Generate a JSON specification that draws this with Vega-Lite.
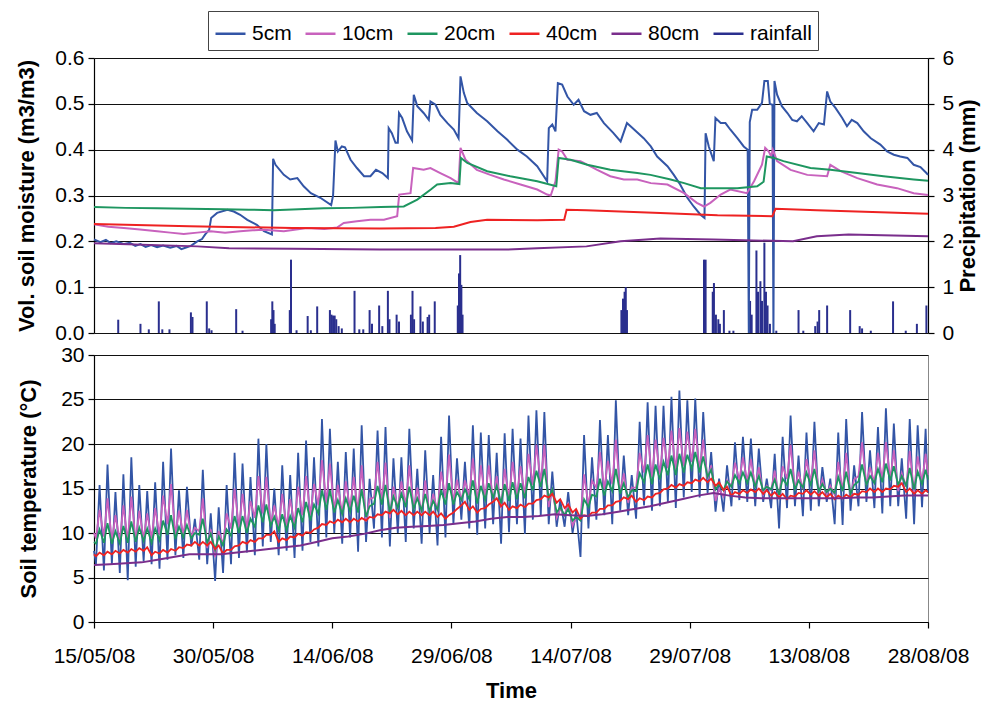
{
"$schema":"https://vega.github.io/schema/vega-lite/v6.json",
"background":"white",
"padding":{"left":15,"top":10,"right":5,"bottom":0},
"config":{
 "font":"Liberation Sans",
 "view":{"stroke":null},
 "axis":{"labelFont":"Liberation Sans","titleFont":"Liberation Sans","labelFontSize":21,"titleFontSize":22,"titleFontWeight":"bold","labelColor":"#000","titleColor":"#000","domainColor":"#000","tickColor":"#000","gridColor":"#111","gridOpacity":1,"gridWidth":1.2,"tickSize":6,"domainWidth":1.2,"tickWidth":1.2,"labelPadding":4},
 "legend":{"orient":"none","legendX":114,"legendY":-47,"direction":"horizontal","symbolType":"stroke","symbolSize":900,"symbolStrokeWidth":2.5,"labelFontSize":21,"labelFont":"Liberation Sans","labelColor":"#000","strokeColor":"#444","padding":6,"columnPadding":8,"labelOffset":5}
},
"datasets":{
"rain":[
{"s":"rainfall","t":3.05,"p":0.29},{"s":"rainfall","t":5.85,"p":0.2},{"s":"rainfall","t":6.9,"p":0.08},{"s":"rainfall","t":8.16,"p":0.69},{"s":"rainfall","t":8.6,"p":0.08},{"s":"rainfall","t":9.5,"p":0.08},{"s":"rainfall","t":12.2,"p":0.45},{"s":"rainfall","t":12.4,"p":0.35},{"s":"rainfall","t":14.2,"p":0.69},{"s":"rainfall","t":14.5,"p":0.1},{"s":"rainfall","t":14.8,"p":0.06},{"s":"rainfall","t":17.9,"p":0.52},{"s":"rainfall","t":18.7,"p":0.05},{"s":"rainfall","t":22.3,"p":0.3},{"s":"rainfall","t":22.45,"p":0.69},{"s":"rainfall","t":22.6,"p":0.5},{"s":"rainfall","t":22.75,"p":0.2},{"s":"rainfall","t":24.65,"p":0.5},{"s":"rainfall","t":24.8,"p":1.6},{"s":"rainfall","t":25.5,"p":0.06},{"s":"rainfall","t":26.9,"p":0.37},{"s":"rainfall","t":27.3,"p":0.06},{"s":"rainfall","t":28.1,"p":0.58},{"s":"rainfall","t":29.7,"p":0.5},{"s":"rainfall","t":29.9,"p":0.4},{"s":"rainfall","t":30.1,"p":0.38},{"s":"rainfall","t":30.3,"p":0.38},{"s":"rainfall","t":30.5,"p":0.3},{"s":"rainfall","t":30.8,"p":0.15},{"s":"rainfall","t":31.2,"p":0.1},{"s":"rainfall","t":32.8,"p":0.92},{"s":"rainfall","t":33.4,"p":0.08},{"s":"rainfall","t":33.9,"p":0.08},{"s":"rainfall","t":34.7,"p":0.5},{"s":"rainfall","t":35.0,"p":0.2},{"s":"rainfall","t":35.9,"p":0.6},{"s":"rainfall","t":36.3,"p":0.15},{"s":"rainfall","t":37.0,"p":0.92},{"s":"rainfall","t":37.2,"p":0.3},{"s":"rainfall","t":38.1,"p":0.4},{"s":"rainfall","t":38.4,"p":0.25},{"s":"rainfall","t":39.9,"p":0.4},{"s":"rainfall","t":40.1,"p":0.92},{"s":"rainfall","t":40.3,"p":0.3},{"s":"rainfall","t":41.1,"p":0.58},{"s":"rainfall","t":41.4,"p":0.25},{"s":"rainfall","t":42.0,"p":0.35},{"s":"rainfall","t":42.2,"p":0.4},{"s":"rainfall","t":42.9,"p":0.69},{"s":"rainfall","t":45.8,"p":0.6},{"s":"rainfall","t":45.95,"p":1.3},{"s":"rainfall","t":46.1,"p":1.7},{"s":"rainfall","t":46.25,"p":1.05},{"s":"rainfall","t":46.4,"p":0.4},{"s":"rainfall","t":66.4,"p":0.5},{"s":"rainfall","t":66.6,"p":0.75},{"s":"rainfall","t":66.8,"p":0.9},{"s":"rainfall","t":66.95,"p":1.0},{"s":"rainfall","t":67.1,"p":0.5},{"s":"rainfall","t":76.8,"p":1.6},{"s":"rainfall","t":77.0,"p":1.6},{"s":"rainfall","t":77.9,"p":0.9},{"s":"rainfall","t":78.05,"p":1.09},{"s":"rainfall","t":78.3,"p":0.4},{"s":"rainfall","t":78.6,"p":0.3},{"s":"rainfall","t":78.8,"p":0.2},{"s":"rainfall","t":79.3,"p":0.5},{"s":"rainfall","t":80.0,"p":0.05},{"s":"rainfall","t":80.5,"p":0.05},{"s":"rainfall","t":82.6,"p":0.7},{"s":"rainfall","t":82.8,"p":0.4},{"s":"rainfall","t":83.4,"p":1.8},{"s":"rainfall","t":83.6,"p":0.9},{"s":"rainfall","t":83.9,"p":1.13},{"s":"rainfall","t":84.1,"p":0.7},{"s":"rainfall","t":84.4,"p":1.97},{"s":"rainfall","t":84.6,"p":0.9},{"s":"rainfall","t":84.8,"p":0.6},{"s":"rainfall","t":85.1,"p":0.2},{"s":"rainfall","t":85.9,"p":0.05},{"s":"rainfall","t":88.7,"p":0.5},{"s":"rainfall","t":89.3,"p":0.05},{"s":"rainfall","t":90.8,"p":0.15},{"s":"rainfall","t":91.1,"p":0.25},{"s":"rainfall","t":91.3,"p":0.5},{"s":"rainfall","t":92.3,"p":0.6},{"s":"rainfall","t":95.2,"p":0.5},{"s":"rainfall","t":96.4,"p":0.15},{"s":"rainfall","t":96.7,"p":0.1},{"s":"rainfall","t":97.8,"p":0.05},{"s":"rainfall","t":100.6,"p":0.69},{"s":"rainfall","t":102.2,"p":0.05},{"s":"rainfall","t":103.6,"p":0.2},{"s":"rainfall","t":104.8,"p":0.6}
],
"moist":[
{"s":"5cm","t":0,"v":0.204},{"s":"5cm","t":0.8,"v":0.198},{"s":"5cm","t":1.5,"v":0.203},{"s":"5cm","t":2.1,"v":0.196},{"s":"5cm","t":2.8,"v":0.2},{"s":"5cm","t":3.8,"v":0.194},{"s":"5cm","t":4.5,"v":0.197},{"s":"5cm","t":5.2,"v":0.19},{"s":"5cm","t":5.85,"v":0.194},{"s":"5cm","t":6.5,"v":0.188},{"s":"5cm","t":7.2,"v":0.192},{"s":"5cm","t":7.95,"v":0.187},{"s":"5cm","t":8.7,"v":0.191},{"s":"5cm","t":9.6,"v":0.186},{"s":"5cm","t":10.4,"v":0.19},{"s":"5cm","t":11.0,"v":0.183},{"s":"5cm","t":11.5,"v":0.186},{"s":"5cm","t":12.2,"v":0.19},{"s":"5cm","t":13.0,"v":0.2},{"s":"5cm","t":13.6,"v":0.205},{"s":"5cm","t":14.0,"v":0.215},{"s":"5cm","t":14.5,"v":0.225},{"s":"5cm","t":14.75,"v":0.251},{"s":"5cm","t":15.5,"v":0.262},{"s":"5cm","t":16.8,"v":0.269},{"s":"5cm","t":17.6,"v":0.265},{"s":"5cm","t":18.4,"v":0.258},{"s":"5cm","t":19.3,"v":0.247},{"s":"5cm","t":20.5,"v":0.236},{"s":"5cm","t":21.4,"v":0.222},{"s":"5cm","t":22.4,"v":0.215},{"s":"5cm","t":22.55,"v":0.38},{"s":"5cm","t":22.85,"v":0.367},{"s":"5cm","t":23.9,"v":0.345},{"s":"5cm","t":24.7,"v":0.335},{"s":"5cm","t":25.6,"v":0.338},{"s":"5cm","t":26.4,"v":0.32},{"s":"5cm","t":27.3,"v":0.305},{"s":"5cm","t":28.5,"v":0.295},{"s":"5cm","t":29.86,"v":0.279},{"s":"5cm","t":30.1,"v":0.3},{"s":"5cm","t":30.4,"v":0.42},{"s":"5cm","t":30.7,"v":0.396},{"s":"5cm","t":31.2,"v":0.407},{"s":"5cm","t":31.6,"v":0.405},{"s":"5cm","t":32.3,"v":0.378},{"s":"5cm","t":33.1,"v":0.36},{"s":"5cm","t":34.0,"v":0.342},{"s":"5cm","t":34.8,"v":0.342},{"s":"5cm","t":35.5,"v":0.356},{"s":"5cm","t":36.3,"v":0.349},{"s":"5cm","t":37.0,"v":0.338},{"s":"5cm","t":37.1,"v":0.447},{"s":"5cm","t":37.5,"v":0.436},{"s":"5cm","t":37.96,"v":0.415},{"s":"5cm","t":38.25,"v":0.415},{"s":"5cm","t":38.4,"v":0.48},{"s":"5cm","t":38.8,"v":0.469},{"s":"5cm","t":39.4,"v":0.44},{"s":"5cm","t":40.05,"v":0.42},{"s":"5cm","t":40.26,"v":0.52},{"s":"5cm","t":40.7,"v":0.495},{"s":"5cm","t":41.5,"v":0.48},{"s":"5cm","t":42.15,"v":0.465},{"s":"5cm","t":42.36,"v":0.505},{"s":"5cm","t":43.0,"v":0.498},{"s":"5cm","t":43.6,"v":0.476},{"s":"5cm","t":44.5,"v":0.458},{"s":"5cm","t":45.3,"v":0.444},{"s":"5cm","t":45.9,"v":0.425},{"s":"5cm","t":46.14,"v":0.56},{"s":"5cm","t":46.56,"v":0.524},{"s":"5cm","t":46.98,"v":0.502},{"s":"5cm","t":48.2,"v":0.48},{"s":"5cm","t":49.5,"v":0.462},{"s":"5cm","t":50.8,"v":0.44},{"s":"5cm","t":52.0,"v":0.422},{"s":"5cm","t":53.3,"v":0.4},{"s":"5cm","t":54.5,"v":0.385},{"s":"5cm","t":55.8,"v":0.364},{"s":"5cm","t":57.05,"v":0.331},{"s":"5cm","t":57.26,"v":0.447},{"s":"5cm","t":57.7,"v":0.455},{"s":"5cm","t":58.1,"v":0.44},{"s":"5cm","t":58.4,"v":0.545},{"s":"5cm","t":58.94,"v":0.542},{"s":"5cm","t":59.6,"v":0.516},{"s":"5cm","t":60.4,"v":0.498},{"s":"5cm","t":61.0,"v":0.509},{"s":"5cm","t":61.7,"v":0.484},{"s":"5cm","t":62.5,"v":0.476},{"s":"5cm","t":63.3,"v":0.48},{"s":"5cm","t":64.2,"v":0.458},{"s":"5cm","t":65.4,"v":0.436},{"s":"5cm","t":66.3,"v":0.418},{"s":"5cm","t":67.1,"v":0.458},{"s":"5cm","t":68.0,"v":0.444},{"s":"5cm","t":69.2,"v":0.425},{"s":"5cm","t":70.1,"v":0.407},{"s":"5cm","t":70.9,"v":0.385},{"s":"5cm","t":72.2,"v":0.364},{"s":"5cm","t":73.0,"v":0.345},{"s":"5cm","t":73.8,"v":0.324},{"s":"5cm","t":74.7,"v":0.295},{"s":"5cm","t":75.5,"v":0.276},{"s":"5cm","t":76.36,"v":0.258},{"s":"5cm","t":76.86,"v":0.251},{"s":"5cm","t":77.0,"v":0.436},{"s":"5cm","t":77.4,"v":0.407},{"s":"5cm","t":78.03,"v":0.375},{"s":"5cm","t":78.24,"v":0.469},{"s":"5cm","t":78.9,"v":0.458},{"s":"5cm","t":79.5,"v":0.458},{"s":"5cm","t":80.1,"v":0.444},{"s":"5cm","t":81.0,"v":0.425},{"s":"5cm","t":81.8,"v":0.407},{"s":"5cm","t":82.3,"v":0.4},{"s":"5cm","t":82.44,"v":0.0},{"s":"5cm","t":82.56,"v":0.46},{"s":"5cm","t":82.86,"v":0.487},{"s":"5cm","t":83.5,"v":0.487},{"s":"5cm","t":84.1,"v":0.502},{"s":"5cm","t":84.4,"v":0.55},{"s":"5cm","t":84.83,"v":0.55},{"s":"5cm","t":85.08,"v":0.5},{"s":"5cm","t":85.42,"v":0.498},{"s":"5cm","t":85.54,"v":0.0},{"s":"5cm","t":85.67,"v":0.55},{"s":"5cm","t":86.0,"v":0.52},{"s":"5cm","t":86.6,"v":0.495},{"s":"5cm","t":87.3,"v":0.48},{"s":"5cm","t":87.9,"v":0.465},{"s":"5cm","t":88.5,"v":0.462},{"s":"5cm","t":89.1,"v":0.473},{"s":"5cm","t":89.8,"v":0.458},{"s":"5cm","t":90.6,"v":0.44},{"s":"5cm","t":91.25,"v":0.458},{"s":"5cm","t":91.9,"v":0.455},{"s":"5cm","t":92.3,"v":0.527},{"s":"5cm","t":92.7,"v":0.505},{"s":"5cm","t":93.35,"v":0.491},{"s":"5cm","t":94.2,"v":0.469},{"s":"5cm","t":94.8,"v":0.451},{"s":"5cm","t":95.4,"v":0.465},{"s":"5cm","t":96.1,"v":0.458},{"s":"5cm","t":96.9,"v":0.44},{"s":"5cm","t":97.8,"v":0.425},{"s":"5cm","t":99.0,"v":0.411},{"s":"5cm","t":99.85,"v":0.396},{"s":"5cm","t":100.7,"v":0.389},{"s":"5cm","t":101.5,"v":0.385},{"s":"5cm","t":102.4,"v":0.382},{"s":"5cm","t":103.2,"v":0.367},{"s":"5cm","t":104.05,"v":0.362},{"s":"5cm","t":104.8,"v":0.349},{"s":"5cm","t":105,"v":0.345},
{"s":"10cm","t":0,"v":0.237},{"s":"10cm","t":1.8,"v":0.232},{"s":"10cm","t":3.76,"v":0.229},{"s":"10cm","t":5.8,"v":0.226},{"s":"10cm","t":7.95,"v":0.222},{"s":"10cm","t":9.6,"v":0.219},{"s":"10cm","t":11.3,"v":0.216},{"s":"10cm","t":13.0,"v":0.219},{"s":"10cm","t":14.7,"v":0.222},{"s":"10cm","t":16.5,"v":0.219},{"s":"10cm","t":18.4,"v":0.222},{"s":"10cm","t":20.0,"v":0.224},{"s":"10cm","t":21.4,"v":0.225},{"s":"10cm","t":23.9,"v":0.222},{"s":"10cm","t":26.8,"v":0.229},{"s":"10cm","t":29.0,"v":0.227},{"s":"10cm","t":30.6,"v":0.23},{"s":"10cm","t":31.45,"v":0.24},{"s":"10cm","t":33.1,"v":0.244},{"s":"10cm","t":34.8,"v":0.247},{"s":"10cm","t":36.5,"v":0.247},{"s":"10cm","t":38.17,"v":0.255},{"s":"10cm","t":38.42,"v":0.302},{"s":"10cm","t":39.85,"v":0.305},{"s":"10cm","t":40.18,"v":0.36},{"s":"10cm","t":41.5,"v":0.356},{"s":"10cm","t":42.36,"v":0.36},{"s":"10cm","t":43.6,"v":0.349},{"s":"10cm","t":44.9,"v":0.338},{"s":"10cm","t":45.9,"v":0.327},{"s":"10cm","t":46.14,"v":0.404},{"s":"10cm","t":46.77,"v":0.378},{"s":"10cm","t":48.2,"v":0.356},{"s":"10cm","t":49.9,"v":0.345},{"s":"10cm","t":51.6,"v":0.335},{"s":"10cm","t":53.7,"v":0.324},{"s":"10cm","t":55.8,"v":0.313},{"s":"10cm","t":57.05,"v":0.302},{"s":"10cm","t":57.5,"v":0.3},{"s":"10cm","t":58.1,"v":0.331},{"s":"10cm","t":58.5,"v":0.4},{"s":"10cm","t":58.94,"v":0.396},{"s":"10cm","t":59.6,"v":0.378},{"s":"10cm","t":61.25,"v":0.375},{"s":"10cm","t":63.35,"v":0.356},{"s":"10cm","t":65.0,"v":0.342},{"s":"10cm","t":66.7,"v":0.335},{"s":"10cm","t":68.4,"v":0.335},{"s":"10cm","t":70.1,"v":0.327},{"s":"10cm","t":72.2,"v":0.324},{"s":"10cm","t":74.3,"v":0.305},{"s":"10cm","t":75.9,"v":0.284},{"s":"10cm","t":76.8,"v":0.276},{"s":"10cm","t":77.6,"v":0.284},{"s":"10cm","t":78.9,"v":0.302},{"s":"10cm","t":80.1,"v":0.313},{"s":"10cm","t":82.2,"v":0.305},{"s":"10cm","t":83.1,"v":0.331},{"s":"10cm","t":84.1,"v":0.367},{"s":"10cm","t":84.5,"v":0.404},{"s":"10cm","t":84.96,"v":0.396},{"s":"10cm","t":85.25,"v":0.385},{"s":"10cm","t":85.46,"v":0.4},{"s":"10cm","t":86.0,"v":0.375},{"s":"10cm","t":87.7,"v":0.356},{"s":"10cm","t":89.8,"v":0.345},{"s":"10cm","t":92.3,"v":0.342},{"s":"10cm","t":92.7,"v":0.367},{"s":"10cm","t":94.0,"v":0.353},{"s":"10cm","t":96.1,"v":0.338},{"s":"10cm","t":98.6,"v":0.324},{"s":"10cm","t":101.1,"v":0.316},{"s":"10cm","t":103.2,"v":0.305},{"s":"10cm","t":105,"v":0.301},
{"s":"20cm","t":0,"v":0.275},{"s":"20cm","t":4.0,"v":0.273},{"s":"20cm","t":7.95,"v":0.272},{"s":"20cm","t":12.0,"v":0.271},{"s":"20cm","t":16.3,"v":0.27},{"s":"20cm","t":19.5,"v":0.269},{"s":"20cm","t":22.6,"v":0.268},{"s":"20cm","t":25.8,"v":0.27},{"s":"20cm","t":28.9,"v":0.272},{"s":"20cm","t":32.5,"v":0.273},{"s":"20cm","t":36.1,"v":0.275},{"s":"20cm","t":39.0,"v":0.276},{"s":"20cm","t":40.7,"v":0.291},{"s":"20cm","t":42.4,"v":0.313},{"s":"20cm","t":43.2,"v":0.324},{"s":"20cm","t":44.9,"v":0.327},{"s":"20cm","t":46.0,"v":0.325},{"s":"20cm","t":46.2,"v":0.382},{"s":"20cm","t":47.0,"v":0.371},{"s":"20cm","t":49.5,"v":0.353},{"s":"20cm","t":52.4,"v":0.342},{"s":"20cm","t":55.8,"v":0.331},{"s":"20cm","t":58.2,"v":0.32},{"s":"20cm","t":58.5,"v":0.382},{"s":"20cm","t":60.0,"v":0.378},{"s":"20cm","t":62.1,"v":0.367},{"s":"20cm","t":65.0,"v":0.356},{"s":"20cm","t":68.4,"v":0.349},{"s":"20cm","t":70.06,"v":0.345},{"s":"20cm","t":72.6,"v":0.335},{"s":"20cm","t":74.3,"v":0.327},{"s":"20cm","t":76.4,"v":0.316},{"s":"20cm","t":81.0,"v":0.316},{"s":"20cm","t":83.5,"v":0.32},{"s":"20cm","t":84.3,"v":0.33},{"s":"20cm","t":84.7,"v":0.385},{"s":"20cm","t":85.6,"v":0.382},{"s":"20cm","t":86.8,"v":0.375},{"s":"20cm","t":90.2,"v":0.36},{"s":"20cm","t":92.7,"v":0.356},{"s":"20cm","t":96.1,"v":0.349},{"s":"20cm","t":99.4,"v":0.342},{"s":"20cm","t":103.2,"v":0.335},{"s":"20cm","t":105,"v":0.332},
{"s":"40cm","t":0,"v":0.238},{"s":"40cm","t":12,"v":0.233},{"s":"40cm","t":25,"v":0.229},{"s":"40cm","t":36,"v":0.228},{"s":"40cm","t":43,"v":0.229},{"s":"40cm","t":45.3,"v":0.232},{"s":"40cm","t":47.4,"v":0.242},{"s":"40cm","t":49.5,"v":0.247},{"s":"40cm","t":55.8,"v":0.246},{"s":"40cm","t":59.2,"v":0.247},{"s":"40cm","t":59.5,"v":0.269},{"s":"40cm","t":62,"v":0.268},{"s":"40cm","t":71.3,"v":0.262},{"s":"40cm","t":78.5,"v":0.257},{"s":"40cm","t":85.4,"v":0.255},{"s":"40cm","t":85.8,"v":0.271},{"s":"40cm","t":91,"v":0.268},{"s":"40cm","t":105,"v":0.26},
{"s":"80cm","t":0,"v":0.196},{"s":"80cm","t":13,"v":0.189},{"s":"80cm","t":17,"v":0.185},{"s":"80cm","t":25,"v":0.184},{"s":"80cm","t":36,"v":0.182},{"s":"80cm","t":52,"v":0.182},{"s":"80cm","t":55.8,"v":0.185},{"s":"80cm","t":62,"v":0.189},{"s":"80cm","t":66.3,"v":0.2},{"s":"80cm","t":71.3,"v":0.206},{"s":"80cm","t":78,"v":0.204},{"s":"80cm","t":88,"v":0.2},{"s":"80cm","t":91,"v":0.211},{"s":"80cm","t":95,"v":0.215},{"s":"80cm","t":105,"v":0.211}
],
"temp":[
{"t":0,"5cm":8.0,"10cm":10.0,"20cm":9.0,"40cm":7.6},
{"t":0.25,"5cm":6.5,"10cm":9.4,"20cm":8.8,"40cm":7.4},{"t":0.7,"5cm":15.4,"10cm":12.6,"20cm":10.4,"40cm":7.8},
{"t":1.25,"5cm":5.8,"10cm":9.6,"20cm":8.9,"40cm":7.5},{"t":1.7,"5cm":17.7,"10cm":13.9,"20cm":11.1,"40cm":7.9},
{"t":2.25,"5cm":6.5,"10cm":9.1,"20cm":8.8,"40cm":7.6},{"t":2.7,"5cm":14.6,"10cm":12.0,"20cm":10.2,"40cm":8.0},
{"t":3.25,"5cm":5.5,"10cm":9.1,"20cm":8.8,"40cm":7.7},{"t":3.7,"5cm":16.6,"10cm":13.1,"20cm":10.8,"40cm":8.1},
{"t":4.25,"5cm":4.7,"10cm":9.1,"20cm":8.9,"40cm":7.8},{"t":4.7,"5cm":18.5,"10cm":14.1,"20cm":11.3,"40cm":8.2},
{"t":5.25,"5cm":6.2,"10cm":9.1,"20cm":9.0,"40cm":7.9},{"t":5.7,"5cm":15.4,"10cm":12.5,"20cm":10.6,"40cm":8.3},
{"t":6.25,"5cm":6.8,"10cm":9.3,"20cm":9.1,"40cm":8.0},{"t":6.7,"5cm":14.7,"10cm":12.2,"20cm":10.5,"40cm":8.4},
{"t":7.25,"5cm":6.5,"10cm":9.4,"20cm":8.9,"40cm":7.5},{"t":7.7,"5cm":15.7,"10cm":12.8,"20cm":10.5,"40cm":7.9},
{"t":8.25,"5cm":6.0,"10cm":9.8,"20cm":9.2,"40cm":7.7},{"t":8.7,"5cm":18.0,"10cm":14.2,"20cm":11.4,"40cm":8.1},
{"t":9.25,"5cm":7.0,"10cm":11.0,"20cm":9.8,"40cm":7.8},{"t":9.7,"5cm":19.5,"10cm":15.5,"20cm":12.0,"40cm":8.2},
{"t":10.25,"5cm":7.5,"10cm":9.8,"20cm":9.3,"40cm":8.0},{"t":10.7,"5cm":14.8,"10cm":12.5,"20cm":10.7,"40cm":8.4},
{"t":11.25,"5cm":7.2,"10cm":9.8,"20cm":9.5,"40cm":8.3},{"t":11.7,"5cm":15.2,"10cm":12.6,"20cm":10.9,"40cm":8.7},
{"t":12.25,"5cm":8.5,"10cm":9.5,"20cm":9.4,"40cm":8.6},{"t":12.7,"5cm":11.6,"10cm":10.6,"20cm":10.0,"40cm":9.0},
{"t":13.25,"5cm":7.0,"10cm":10.2,"20cm":9.8,"40cm":8.6},{"t":13.7,"5cm":17.1,"10cm":13.9,"20cm":11.6,"40cm":9.0},
{"t":14.25,"5cm":6.5,"10cm":8.3,"20cm":8.9,"40cm":8.6},{"t":14.7,"5cm":12.2,"10cm":10.4,"20cm":9.9,"40cm":9.0},
{"t":15.25,"5cm":4.6,"10cm":7.3,"20cm":8.1,"40cm":8.2},{"t":15.7,"5cm":12.9,"10cm":10.2,"20cm":9.6,"40cm":8.6},
{"t":16.25,"5cm":5.5,"10cm":8.7,"20cm":8.6,"40cm":7.7},{"t":16.7,"5cm":15.4,"10cm":12.2,"20cm":10.4,"40cm":8.1},
{"t":17.25,"5cm":6.5,"10cm":10.5,"20cm":9.7,"40cm":8.1},{"t":17.7,"5cm":19.0,"10cm":15.0,"20cm":11.9,"40cm":8.5},
{"t":18.25,"5cm":7.2,"10cm":10.6,"20cm":10.0,"40cm":8.6},{"t":18.7,"5cm":17.8,"10cm":14.4,"20cm":11.9,"40cm":9.0},
{"t":19.25,"5cm":7.8,"10cm":10.5,"20cm":10.0,"40cm":8.8},{"t":19.7,"5cm":16.3,"10cm":13.6,"20cm":11.6,"40cm":9.2},
{"t":20.25,"5cm":7.5,"10cm":11.7,"20cm":10.7,"40cm":9.0},{"t":20.7,"5cm":20.6,"10cm":16.4,"20cm":13.1,"40cm":9.4},
{"t":21.25,"5cm":8.5,"10cm":12.2,"20cm":11.2,"40cm":9.4},{"t":21.7,"5cm":20.0,"10cm":16.3,"20cm":13.2,"40cm":9.8},
{"t":22.25,"5cm":9.0,"10cm":10.9,"20cm":10.8,"40cm":9.8},{"t":22.7,"5cm":15.0,"10cm":13.1,"20cm":11.8,"40cm":10.2},
{"t":23.25,"5cm":7.5,"10cm":10.7,"20cm":10.3,"40cm":9.0},{"t":23.7,"5cm":17.6,"10cm":14.4,"20cm":12.1,"40cm":9.4},
{"t":24.25,"5cm":8.0,"10cm":10.7,"20cm":10.3,"40cm":9.2},{"t":24.7,"5cm":16.5,"10cm":13.8,"20cm":11.9,"40cm":9.6},
{"t":25.25,"5cm":7.2,"10cm":11.0,"20cm":10.6,"40cm":9.5},{"t":25.7,"5cm":19.0,"10cm":15.2,"20cm":12.8,"40cm":9.9},
{"t":26.25,"5cm":8.0,"10cm":12.0,"20cm":11.2,"40cm":9.7},{"t":26.7,"5cm":20.4,"10cm":16.4,"20cm":13.5,"40cm":10.1},
{"t":27.25,"5cm":9.0,"10cm":12.0,"20cm":11.4,"40cm":10.0},{"t":27.7,"5cm":18.5,"10cm":15.5,"20cm":13.2,"40cm":10.4},
{"t":28.25,"5cm":8.5,"10cm":13.1,"20cm":12.2,"40cm":10.6},{"t":28.7,"5cm":22.8,"10cm":18.2,"20cm":14.8,"40cm":11.0},
{"t":29.25,"5cm":9.5,"10cm":13.4,"20cm":12.6,"40cm":10.9},{"t":29.7,"5cm":21.7,"10cm":17.8,"20cm":14.8,"40cm":11.3},
{"t":30.25,"5cm":10.0,"10cm":12.6,"20cm":12.3,"40cm":11.1},{"t":30.7,"5cm":18.0,"10cm":15.4,"20cm":13.7,"40cm":11.5},
{"t":31.25,"5cm":8.8,"10cm":12.1,"20cm":12.1,"40cm":11.2},{"t":31.7,"5cm":19.1,"10cm":15.8,"20cm":13.9,"40cm":11.6},
{"t":32.25,"5cm":9.5,"10cm":12.7,"20cm":12.4,"40cm":11.2},{"t":32.7,"5cm":19.5,"10cm":16.3,"20cm":14.2,"40cm":11.6},
{"t":33.25,"5cm":7.9,"10cm":12.4,"20cm":12.3,"40cm":11.3},{"t":33.7,"5cm":22.1,"10cm":17.6,"20cm":14.9,"40cm":11.7},
{"t":34.25,"5cm":9.0,"10cm":11.3,"20cm":11.8,"40cm":11.4},{"t":34.7,"5cm":16.1,"10cm":13.8,"20cm":13.0,"40cm":11.8},
{"t":35.25,"5cm":10.5,"10cm":14.0,"20cm":13.3,"40cm":11.7},{"t":35.7,"5cm":21.5,"10cm":18.0,"20cm":15.3,"40cm":12.1},
{"t":36.25,"5cm":9.5,"10cm":13.5,"20cm":13.2,"40cm":12.0},{"t":36.7,"5cm":21.9,"10cm":17.9,"20cm":15.4,"40cm":12.4},
{"t":37.25,"5cm":8.5,"10cm":11.7,"20cm":12.3,"40cm":12.2},{"t":37.7,"5cm":18.4,"10cm":15.2,"20cm":14.1,"40cm":12.6},
{"t":38.25,"5cm":10.0,"10cm":12.7,"20cm":12.8,"40cm":12.1},{"t":38.7,"5cm":18.5,"10cm":15.8,"20cm":14.4,"40cm":12.5},
{"t":39.25,"5cm":9.0,"10cm":13.1,"20cm":12.9,"40cm":12.0},{"t":39.7,"5cm":21.7,"10cm":17.6,"20cm":15.2,"40cm":12.4},
{"t":40.25,"5cm":10.5,"10cm":12.6,"20cm":12.7,"40cm":12.0},{"t":40.7,"5cm":17.2,"10cm":15.1,"20cm":13.9,"40cm":12.4},
{"t":41.25,"5cm":8.8,"10cm":12.2,"20cm":12.5,"40cm":12.0},{"t":41.7,"5cm":19.3,"10cm":15.9,"20cm":14.4,"40cm":12.4},
{"t":42.25,"5cm":10.0,"10cm":12.1,"20cm":12.4,"40cm":12.0},{"t":42.7,"5cm":16.5,"10cm":14.4,"20cm":13.6,"40cm":12.4},
{"t":43.25,"5cm":8.6,"10cm":12.5,"20cm":12.6,"40cm":11.8},{"t":43.7,"5cm":20.8,"10cm":16.9,"20cm":14.8,"40cm":12.2},
{"t":44.25,"5cm":9.5,"10cm":13.9,"20cm":13.2,"40cm":11.6},{"t":44.7,"5cm":23.2,"10cm":18.8,"20cm":15.6,"40cm":12.0},
{"t":45.25,"5cm":11.0,"10cm":13.4,"20cm":13.2,"40cm":12.3},{"t":45.7,"5cm":18.4,"10cm":16.0,"20cm":14.6,"40cm":12.7},
{"t":46.25,"5cm":11.5,"10cm":13.6,"20cm":13.7,"40cm":13.1},{"t":46.7,"5cm":18.0,"10cm":15.9,"20cm":14.9,"40cm":13.5},
{"t":47.25,"5cm":10.5,"10cm":14.2,"20cm":13.8,"40cm":12.6},{"t":47.7,"5cm":22.1,"10cm":18.4,"20cm":15.9,"40cm":13.0},
{"t":48.25,"5cm":9.8,"10cm":13.5,"20cm":13.3,"40cm":12.3},{"t":48.7,"5cm":21.3,"10cm":17.6,"20cm":15.3,"40cm":12.7},
{"t":49.25,"5cm":10.5,"10cm":13.9,"20cm":13.7,"40cm":12.8},{"t":49.7,"5cm":21.0,"10cm":17.6,"20cm":15.6,"40cm":13.2},
{"t":50.25,"5cm":11.0,"10cm":13.6,"20cm":13.9,"40cm":13.5},{"t":50.7,"5cm":19.0,"10cm":16.4,"20cm":15.3,"40cm":13.9},
{"t":51.25,"5cm":8.8,"10cm":12.8,"20cm":13.3,"40cm":13.0},{"t":51.7,"5cm":21.2,"10cm":17.2,"20cm":15.5,"40cm":13.4},
{"t":52.25,"5cm":10.1,"10cm":13.8,"20cm":13.6,"40cm":12.6},{"t":52.7,"5cm":21.7,"10cm":18.0,"20cm":15.7,"40cm":13.0},
{"t":53.25,"5cm":11.0,"10cm":14.1,"20cm":13.8,"40cm":12.8},{"t":53.7,"5cm":20.6,"10cm":17.5,"20cm":15.6,"40cm":13.2},
{"t":54.25,"5cm":9.9,"10cm":14.2,"20cm":13.9,"40cm":12.9},{"t":54.7,"5cm":23.2,"10cm":18.9,"20cm":16.3,"40cm":13.3},
{"t":55.25,"5cm":11.5,"10cm":15.4,"20cm":14.8,"40cm":13.3},{"t":55.7,"5cm":23.8,"10cm":19.9,"20cm":17.0,"40cm":13.7},
{"t":56.25,"5cm":12.0,"10cm":15.7,"20cm":15.2,"40cm":13.8},{"t":56.7,"5cm":23.6,"10cm":19.9,"20cm":17.2,"40cm":14.2},
{"t":57.25,"5cm":11.0,"10cm":12.9,"20cm":13.9,"40cm":14.0},{"t":57.7,"5cm":16.9,"10cm":15.0,"20cm":14.9,"40cm":14.4},
{"t":58.25,"5cm":10.7,"10cm":11.7,"20cm":12.3,"40cm":13.4},{"t":58.7,"5cm":13.7,"10cm":12.7,"20cm":12.9,"40cm":13.8},
{"t":59.25,"5cm":10.7,"10cm":12.0,"20cm":12.0,"40cm":12.8},{"t":59.7,"5cm":14.6,"10cm":13.4,"20cm":12.7,"40cm":13.2},
{"t":60.25,"5cm":10.0,"10cm":10.8,"20cm":11.4,"40cm":12.3},{"t":60.7,"5cm":12.5,"10cm":11.7,"20cm":11.8,"40cm":12.7},
{"t":61.25,"5cm":7.3,"10cm":11.7,"20cm":11.4,"40cm":11.6},{"t":61.7,"5cm":21.0,"10cm":16.6,"20cm":13.8,"40cm":12.0},
{"t":62.25,"5cm":10.5,"10cm":13.1,"20cm":12.9,"40cm":11.9},{"t":62.7,"5cm":18.5,"10cm":15.9,"20cm":14.3,"40cm":12.3},
{"t":63.25,"5cm":11.5,"10cm":15.1,"20cm":14.1,"40cm":12.3},{"t":63.7,"5cm":22.7,"10cm":19.1,"20cm":16.1,"40cm":12.7},
{"t":64.25,"5cm":12.0,"10cm":14.9,"20cm":14.2,"40cm":12.7},{"t":64.7,"5cm":21.0,"10cm":18.1,"20cm":15.8,"40cm":13.1},
{"t":65.25,"5cm":11.0,"10cm":15.5,"20cm":14.7,"40cm":13.1},{"t":65.7,"5cm":24.9,"10cm":20.5,"20cm":17.2,"40cm":13.5},
{"t":66.25,"5cm":12.5,"10cm":14.5,"20cm":14.4,"40cm":13.6},{"t":66.7,"5cm":18.7,"10cm":16.7,"20cm":15.6,"40cm":14.0},
{"t":67.25,"5cm":12.0,"10cm":13.4,"20cm":14.0,"40cm":13.8},{"t":67.7,"5cm":16.5,"10cm":15.1,"20cm":14.8,"40cm":14.2},
{"t":68.25,"5cm":11.6,"10cm":15.1,"20cm":14.7,"40cm":13.5},{"t":68.7,"5cm":22.5,"10cm":19.0,"20cm":16.7,"40cm":13.9},
{"t":69.25,"5cm":13.1,"10cm":16.8,"20cm":15.7,"40cm":13.7},{"t":69.7,"5cm":24.7,"10cm":21.0,"20cm":17.7,"40cm":14.1},
{"t":70.25,"5cm":12.5,"10cm":16.3,"20cm":15.5,"40cm":14.0},{"t":70.7,"5cm":24.3,"10cm":20.5,"20cm":17.7,"40cm":14.4},
{"t":71.25,"5cm":13.0,"10cm":16.6,"20cm":16.0,"40cm":14.5},{"t":71.7,"5cm":24.3,"10cm":20.7,"20cm":18.0,"40cm":14.9},
{"t":72.25,"5cm":13.5,"10cm":17.3,"20cm":16.5,"40cm":15.0},{"t":72.7,"5cm":25.3,"10cm":21.5,"20cm":18.7,"40cm":15.4},
{"t":73.25,"5cm":12.8,"10cm":17.0,"20cm":16.5,"40cm":15.1},{"t":73.7,"5cm":26.0,"10cm":21.8,"20cm":18.9,"40cm":15.5},
{"t":74.25,"5cm":14.0,"10cm":17.5,"20cm":16.8,"40cm":15.3},{"t":74.7,"5cm":24.9,"10cm":21.4,"20cm":18.8,"40cm":15.7},
{"t":75.25,"5cm":14.6,"10cm":18.0,"20cm":17.2,"40cm":15.6},{"t":75.7,"5cm":25.1,"10cm":21.7,"20cm":19.1,"40cm":16.0},
{"t":76.25,"5cm":14.0,"10cm":17.1,"20cm":16.8,"40cm":15.8},{"t":76.7,"5cm":23.6,"10cm":20.5,"20cm":18.6,"40cm":16.2},
{"t":77.25,"5cm":14.5,"10cm":16.0,"20cm":16.3,"40cm":15.7},{"t":77.7,"5cm":19.1,"10cm":17.6,"20cm":17.1,"40cm":16.1},
{"t":78.25,"5cm":12.4,"10cm":13.6,"20cm":14.9,"40cm":15.3},{"t":78.7,"5cm":16.1,"10cm":14.9,"20cm":15.5,"40cm":15.7},
{"t":79.25,"5cm":12.4,"10cm":14.1,"20cm":14.8,"40cm":14.8},{"t":79.7,"5cm":17.6,"10cm":15.9,"20cm":15.8,"40cm":15.2},
{"t":80.25,"5cm":13.0,"10cm":15.3,"20cm":15.2,"40cm":14.2},{"t":80.7,"5cm":20.2,"10cm":17.9,"20cm":16.5,"40cm":14.6},
{"t":81.25,"5cm":13.7,"10cm":16.0,"20cm":15.6,"40cm":14.4},{"t":81.7,"5cm":20.8,"10cm":18.5,"20cm":16.8,"40cm":14.8},
{"t":82.25,"5cm":13.5,"10cm":15.8,"20cm":15.6,"40cm":14.5},{"t":82.7,"5cm":20.6,"10cm":18.3,"20cm":16.8,"40cm":14.9},
{"t":83.25,"5cm":13.0,"10cm":15.1,"20cm":15.2,"40cm":14.6},{"t":83.7,"5cm":19.5,"10cm":17.4,"20cm":16.4,"40cm":15.0},
{"t":84.25,"5cm":13.5,"10cm":14.3,"20cm":14.8,"40cm":14.4},{"t":84.7,"5cm":16.1,"10cm":15.3,"20cm":15.2,"40cm":14.8},
{"t":85.25,"5cm":12.8,"10cm":14.8,"20cm":14.9,"40cm":14.2},{"t":85.7,"5cm":18.9,"10cm":17.0,"20cm":16.0,"40cm":14.6},
{"t":86.25,"5cm":10.5,"10cm":13.8,"20cm":14.3,"40cm":14.0},{"t":86.7,"5cm":20.8,"10cm":17.5,"20cm":16.1,"40cm":14.4},
{"t":87.25,"5cm":12.8,"10cm":16.1,"20cm":15.4,"40cm":13.8},{"t":87.7,"5cm":23.2,"10cm":19.9,"20cm":17.2,"40cm":14.2},
{"t":88.25,"5cm":13.0,"10cm":14.8,"20cm":14.9,"40cm":14.1},{"t":88.7,"5cm":18.7,"10cm":16.9,"20cm":15.9,"40cm":14.5},
{"t":89.25,"5cm":11.9,"10cm":14.9,"20cm":15.1,"40cm":14.4},{"t":89.7,"5cm":21.3,"10cm":18.3,"20cm":16.8,"40cm":14.8},
{"t":90.25,"5cm":12.5,"10cm":15.7,"20cm":15.4,"40cm":14.3},{"t":90.7,"5cm":22.5,"10cm":19.3,"20cm":17.2,"40cm":14.7},
{"t":91.25,"5cm":13.0,"10cm":14.4,"20cm":14.7,"40cm":14.2},{"t":91.7,"5cm":17.4,"10cm":16.0,"20cm":15.5,"40cm":14.6},
{"t":92.25,"5cm":13.5,"10cm":14.3,"20cm":14.6,"40cm":14.0},{"t":92.7,"5cm":16.1,"10cm":15.3,"20cm":15.0,"40cm":14.4},
{"t":93.25,"5cm":11.0,"10cm":14.3,"20cm":14.5,"40cm":13.8},{"t":93.7,"5cm":21.3,"10cm":18.0,"20cm":16.3,"40cm":14.2},
{"t":94.25,"5cm":10.9,"10cm":14.7,"20cm":14.7,"40cm":13.9},{"t":94.7,"5cm":22.8,"10cm":19.0,"20cm":16.9,"40cm":14.3},
{"t":95.25,"5cm":12.5,"10cm":14.1,"20cm":14.4,"40cm":14.0},{"t":95.7,"5cm":17.6,"10cm":16.0,"20cm":15.4,"40cm":14.4},
{"t":96.25,"5cm":13.0,"10cm":16.4,"20cm":15.8,"40cm":14.3},{"t":96.7,"5cm":23.6,"10cm":20.2,"20cm":17.7,"40cm":14.7},
{"t":97.25,"5cm":13.5,"10cm":15.4,"20cm":15.4,"40cm":14.6},{"t":97.7,"5cm":19.3,"10cm":17.4,"20cm":16.4,"40cm":15.0},
{"t":98.25,"5cm":12.8,"10cm":15.7,"20cm":15.6,"40cm":14.6},{"t":98.7,"5cm":21.9,"10cm":19.0,"20cm":17.2,"40cm":15.0},
{"t":99.25,"5cm":12.2,"10cm":16.0,"20cm":15.7,"40cm":14.6},{"t":99.7,"5cm":24.0,"10cm":20.2,"20cm":17.8,"40cm":15.0},
{"t":100.25,"5cm":13.0,"10cm":16.0,"20cm":15.9,"40cm":14.9},{"t":100.7,"5cm":22.3,"10cm":19.3,"20cm":17.5,"40cm":15.3},
{"t":101.25,"5cm":13.0,"10cm":14.7,"20cm":15.4,"40cm":15.2},{"t":101.7,"5cm":18.4,"10cm":16.7,"20cm":16.4,"40cm":15.6},
{"t":102.25,"5cm":11.6,"10cm":15.2,"20cm":15.3,"40cm":14.6},{"t":102.7,"5cm":22.8,"10cm":19.2,"20cm":17.3,"40cm":15.0},
{"t":103.25,"5cm":11.0,"10cm":14.6,"20cm":14.9,"40cm":14.4},{"t":103.7,"5cm":22.1,"10cm":18.6,"20cm":16.9,"40cm":14.8},
{"t":104.25,"5cm":12.9,"10cm":15.7,"20cm":15.5,"40cm":14.4},{"t":104.7,"5cm":21.7,"10cm":18.9,"20cm":17.1,"40cm":14.8},
{"t":105,"5cm":14.5,"10cm":16.5,"20cm":16.0,"40cm":14.6}
],
"t80":[
{"s":"80cm","t":0,"v":6.4},{"s":"80cm","t":2,"v":6.5},{"s":"80cm","t":4,"v":6.6},{"s":"80cm","t":6,"v":6.7},{"s":"80cm","t":8,"v":7.0},{"s":"80cm","t":10,"v":7.3},{"s":"80cm","t":12,"v":7.6},{"s":"80cm","t":14,"v":7.6},{"s":"80cm","t":16,"v":7.6},{"s":"80cm","t":18,"v":7.8},{"s":"80cm","t":20,"v":8.0},{"s":"80cm","t":22,"v":8.2},{"s":"80cm","t":24,"v":8.4},{"s":"80cm","t":26,"v":8.6},{"s":"80cm","t":28,"v":9.0},{"s":"80cm","t":30,"v":9.4},{"s":"80cm","t":32,"v":9.6},{"s":"80cm","t":34,"v":9.9},{"s":"80cm","t":36,"v":10.3},{"s":"80cm","t":38,"v":10.6},{"s":"80cm","t":40,"v":10.7},{"s":"80cm","t":42,"v":10.8},{"s":"80cm","t":44,"v":10.9},{"s":"80cm","t":46,"v":11.1},{"s":"80cm","t":48,"v":11.3},{"s":"80cm","t":50,"v":11.6},{"s":"80cm","t":52,"v":11.8},{"s":"80cm","t":54,"v":11.8},{"s":"80cm","t":56,"v":11.9},{"s":"80cm","t":58,"v":12.1},{"s":"80cm","t":60,"v":12.0},{"s":"80cm","t":62,"v":11.9},{"s":"80cm","t":64,"v":12.1},{"s":"80cm","t":66,"v":12.4},{"s":"80cm","t":68,"v":12.7},{"s":"80cm","t":70,"v":13.0},{"s":"80cm","t":72,"v":13.4},{"s":"80cm","t":74,"v":13.8},{"s":"80cm","t":76,"v":14.2},{"s":"80cm","t":78,"v":14.5},{"s":"80cm","t":80,"v":14.2},{"s":"80cm","t":82,"v":14.0},{"s":"80cm","t":84,"v":13.9},{"s":"80cm","t":86,"v":13.9},{"s":"80cm","t":88,"v":13.9},{"s":"80cm","t":90,"v":13.9},{"s":"80cm","t":92,"v":13.9},{"s":"80cm","t":94,"v":13.9},{"s":"80cm","t":96,"v":14.0},{"s":"80cm","t":98,"v":14.0},{"s":"80cm","t":100,"v":14.1},{"s":"80cm","t":102,"v":14.2},{"s":"80cm","t":104,"v":14.2},{"s":"80cm","t":105,"v":14.2}
]
},
"spacing":0,
"vconcat":[
{
 "width":834,"height":275,
 "layer":[
  {"data":{"name":"rain"},"mark":{"type":"rule","strokeWidth":2},
   "encoding":{
    "x":{"field":"t","type":"quantitative","scale":{"domain":[0,105],"nice":false,"zero":false},"axis":null},
    "y":{"field":"p","type":"quantitative","scale":{"domain":[0,6],"nice":false},"axis":{"orient":"right","values":[0,1,2,3,4,5,6],"grid":false,"title":"Precipitation (mm)","titleAngle":270,"titleBaseline":"top","labelPadding":8,"titlePadding":4}},
    "y2":{"datum":0},
    "color":{"field":"s","type":"nominal","scale":{"domain":["5cm","10cm","20cm","40cm","80cm","rainfall"],"range":["#3355A6","#C862BD","#1E9660","#EE2222","#7A2E8C","#2A2F8E"]},"legend":{"title":null}}
   }},
  {"data":{"name":"moist"},"mark":{"type":"line","strokeWidth":2},
   "encoding":{
    "x":{"field":"t","type":"quantitative","scale":{"domain":[0,105],"nice":false,"zero":false},"axis":null},
    "y":{"field":"v","type":"quantitative","scale":{"domain":[0,0.6],"nice":false},"axis":{"orient":"left","values":[0,0.1,0.2,0.3,0.4,0.5,0.6],"format":".1f","grid":true,"title":"Vol. soil moisture (m3/m3)","titlePadding":16}},
    "color":{"field":"s","type":"nominal","scale":{"domain":["5cm","10cm","20cm","40cm","80cm","rainfall"],"range":["#3355A6","#C862BD","#1E9660","#EE2222","#7A2E8C","#2A2F8E"]},"legend":{"title":null}}
   }}
 ],
 "resolve":{"scale":{"y":"independent"}}
},
{
 "width":834,"height":267,
 "view":{"stroke":"#888"},
 "layer":[
  {"data":{"name":"temp"},"transform":[{"fold":["5cm","10cm","20cm","40cm"],"as":["s","v"]}],"mark":{"type":"line","strokeWidth":1.8},
   "encoding":{
    "x":{"field":"t","type":"quantitative","scale":{"domain":[0,105],"nice":false,"zero":false},"axis":{"values":[0,15,30,45,60,75,90,105],"labelExpr":"['15/05/08','30/05/08','14/06/08','29/06/08','14/07/08','29/07/08','13/08/08','28/08/08'][round(datum.value/15)]","labelFlush":false,"labelOverlap":false,"title":"Time","labelPadding":17,"titlePadding":14,"grid":false}},
    "y":{"field":"v","type":"quantitative","scale":{"domain":[0,30],"nice":false},"axis":{"values":[0,5,10,15,20,25,30],"grid":true,"title":"Soil temperature (°C)","titlePadding":20}},
    "color":{"field":"s","type":"nominal","scale":{"domain":["5cm","10cm","20cm","40cm","80cm","rainfall"],"range":["#3355A6","#C862BD","#1E9660","#EE2222","#7A2E8C","#2A2F8E"]},"legend":{"title":null}}
   }},
  {"data":{"name":"t80"},"mark":{"type":"line","strokeWidth":2},
   "encoding":{
    "x":{"field":"t","type":"quantitative","scale":{"domain":[0,105],"nice":false,"zero":false}},
    "y":{"field":"v","type":"quantitative"},
    "color":{"field":"s","type":"nominal","scale":{"domain":["5cm","10cm","20cm","40cm","80cm","rainfall"],"range":["#3355A6","#C862BD","#1E9660","#EE2222","#7A2E8C","#2A2F8E"]},"legend":{"title":null}}
   }}
 ]
}
]
}
